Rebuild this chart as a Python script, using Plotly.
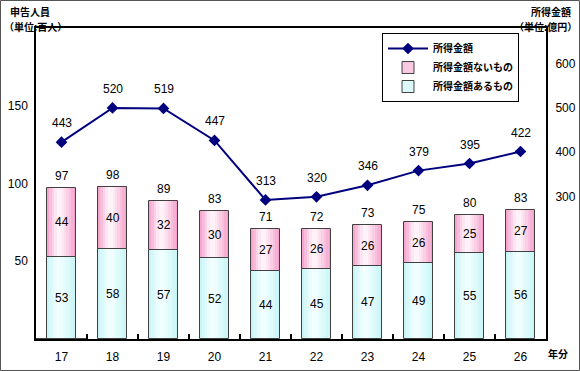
import plotly.graph_objects as go

years = ["17", "18", "19", "20", "21", "22", "23", "24", "25", "26"]
with_income = [53, 58, 57, 52, 44, 45, 47, 49, 55, 56]      # 所得金額あるもの (百人)
without_income = [44, 40, 32, 30, 27, 26, 26, 26, 25, 27]   # 所得金額ないもの (百人)
totals = [97, 98, 89, 83, 71, 72, 73, 75, 80, 83]           # 申告人員 合計 (百人)
income_amount = [443, 520, 519, 447, 313, 320, 346, 379, 395, 422]  # 所得金額 (億円)

W, H = 580, 371
L, R, T, B = 36, 34, 28, 32
pw, ph = W - L - R, H - T - B

FONT_NUM = "Liberation Sans, Arial, sans-serif"
FONT_JP = "Noto Sans CJK JP, sans-serif"

fig = go.Figure()

BW = 0.57
N = 12

def lerp(c1, c2, t):
    return "rgb(%d,%d,%d)" % tuple(round(a + (b - a) * t) for a, b in zip(c1, c2))

def grad(edge, center, i):
    p = (i + 0.5) / N
    c = 0.4
    t = abs(p - c) / (c if p < c else 1 - c)
    return lerp(center, edge, t ** 1.3)

cyan_edge, cyan_center = (196, 244, 246), (242, 255, 255)
pink_edge, pink_center = (244, 152, 200), (255, 246, 250)

for i in range(N):
    off = -BW / 2 + i * BW / N
    fig.add_trace(go.Bar(x=years, y=with_income, base=[0] * len(years),
                         width=BW / N + 0.002, offset=off,
                         marker=dict(color=grad(cyan_edge, cyan_center, i), line=dict(width=0)),
                         showlegend=False, hoverinfo="skip"))
    fig.add_trace(go.Bar(x=years, y=without_income, base=with_income,
                         width=BW / N + 0.002, offset=off,
                         marker=dict(color=grad(pink_edge, pink_center, i), line=dict(width=0)),
                         showlegend=False, hoverinfo="skip"))

for vals, bases in [(with_income, [0] * len(years)), (without_income, with_income)]:
    fig.add_trace(go.Bar(x=years, y=vals, base=bases, width=BW, offset=-BW / 2,
                         marker=dict(color="rgba(0,0,0,0)", line=dict(color="#404040", width=1)),
                         showlegend=False, hoverinfo="skip"))

fig.add_trace(go.Scatter(x=years, y=income_amount, yaxis="y2", mode="lines+markers",
                         line=dict(color="#00007f", width=2),
                         marker=dict(symbol="diamond", size=9, color="#00007f"),
                         name="所得金額", legendrank=1))
fig.add_trace(go.Bar(x=[years[0]], y=[0], name="所得金額ないもの", legendrank=2,
                     marker=dict(color="rgb(250,200,225)", line=dict(color="#404040", width=1)),
                     hoverinfo="skip"))
fig.add_trace(go.Bar(x=[years[0]], y=[0], name="所得金額あるもの", legendrank=3,
                     marker=dict(color="rgb(220,250,250)", line=dict(color="#404040", width=1)),
                     hoverinfo="skip"))

ann = []
numfont = dict(family=FONT_NUM, size=12, color="#000")
for i, (a, b, t, m) in enumerate(zip(with_income, without_income, totals, income_amount)):
    ann.append(dict(x=i, y=a / 2, xref="x", yref="y", text=str(a), showarrow=False, font=numfont))
    ann.append(dict(x=i, y=a + b / 2, xref="x", yref="y", text=str(b), showarrow=False, font=numfont))
    ann.append(dict(x=i, y=a + b, xref="x", yref="y", text=str(t), showarrow=False, yshift=12,
                    font=numfont))
    ann.append(dict(x=i, y=m, xref="x", yref="y2", text=str(m), showarrow=False, yshift=19,
                    font=numfont))

def px(xp):
    return (xp - L) / pw

def py(yp):
    return (H - B - yp) / ph

for txt, xp, yp, anc in [("申告人員", 30, 11, "center"), ("（単位:百人）", 2, 26, "left"),
                         ("所得金額", 551, 11, "center"), ("（単位:億円）", 579, 26, "right"),
                         ("年分", 558, 353, "center")]:
    ann.append(dict(x=px(xp), y=py(yp), xref="paper", yref="paper", text=txt, showarrow=False,
                    xanchor=anc, yanchor="middle",
                    font=dict(family=FONT_JP, size=10, color="#000", weight="bold")))

fig.update_layout(
    width=W, height=H,
    margin=dict(l=L, r=R, t=T, b=B, pad=0, autoexpand=False),
    paper_bgcolor="white", plot_bgcolor="white",
    barmode="overlay", bargap=0,
    annotations=ann,
    showlegend=True,
    legend=dict(x=px(382), y=py(33), xanchor="left", yanchor="top",
                bgcolor="white", bordercolor="#000", borderwidth=1,
                font=dict(family=FONT_JP, size=10, color="#000", weight="bold"),
                tracegroupgap=0, itemwidth=40, traceorder="normal"),
    xaxis=dict(type="category", range=[-0.5, 9.5], showgrid=False,
               showline=True, linecolor="#000", linewidth=1.5, mirror=True,
               ticks="inside", ticklen=5, tickwidth=1.5, tickcolor="#000", tickson="boundaries",
               tickfont=numfont, ticklabelstandoff=6),
    yaxis=dict(range=[0, 200], tickvals=[50, 100, 150], showgrid=False, zeroline=False,
               showline=True, linecolor="#000", linewidth=1.5,
               ticks="", tickfont=numfont, ticklabelstandoff=4),
    yaxis2=dict(range=[0, 700], tickvals=[300, 400, 500, 600], overlaying="y", side="right",
                showgrid=False, zeroline=False, showline=True, linecolor="#000", linewidth=2,
                ticks="", tickfont=numfont, ticklabelstandoff=5, ticklabelshift=-9),
    shapes=[dict(type="rect", xref="paper", yref="paper",
                 x0=px(0.5), x1=px(W - 0.5), y0=py(H - 0.5), y1=py(0.5),
                 line=dict(color="#555", width=1), layer="above")],
)

fig.write_html("out.html", config={"displayModeBar": False},
               post_script="document.body.style.margin='0';document.body.style.overflow='hidden';")
